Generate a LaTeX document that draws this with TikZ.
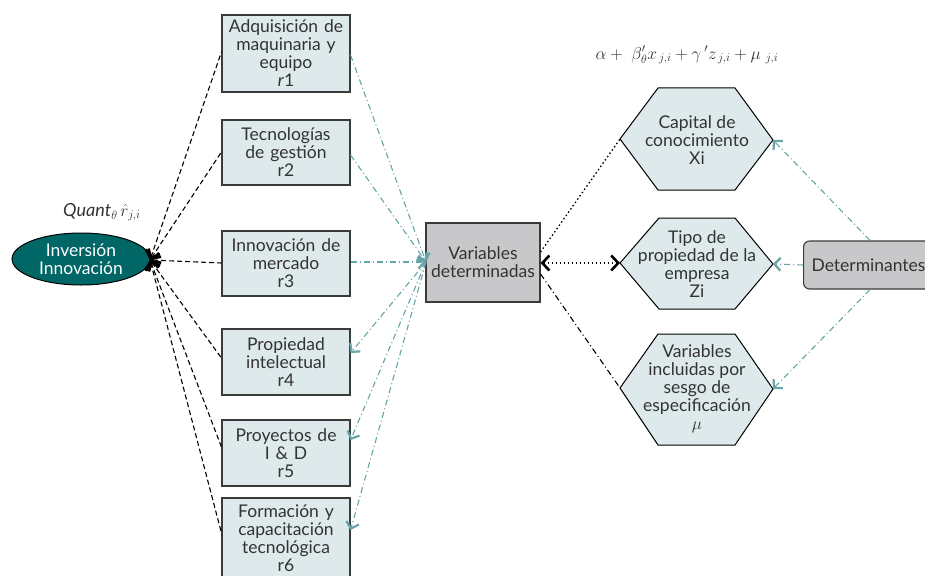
\documentclass[tikz,border=0pt]{standalone}
\usepackage{fontspec}
\setmainfont{Lato}
\usetikzlibrary{arrows.meta,shapes.geometric}
\definecolor{boxfill}{HTML}{DDE9EB}
\definecolor{greyfill}{HTML}{C8C8CA}
\definecolor{teal2}{HTML}{006666}
\definecolor{tealline}{HTML}{66A4A8}
\definecolor{txt}{HTML}{333333}
\definecolor{edge}{HTML}{3A3A3A}
\tikzset{
  fnt/.style={font=\fontsize{17.5}{18}\selectfont},
  rbox/.style={draw=edge, fill=boxfill, line width=1.1pt, minimum width=128pt, text width=127pt, align=center, inner sep=0pt, text=txt, fnt},
  gbox/.style={draw=edge, fill=greyfill, line width=1.1pt, text=txt, align=center, inner sep=0pt, fnt},
  hexa/.style={draw=black, fill=boxfill, line width=1pt},
  hextext/.style={text=txt, align=center, fnt},
  dashk/.style={draw=black, line width=1.1pt, dash pattern=on 5pt off 3pt},
  dashdott/.style={draw=tealline, line width=1.1pt, dash pattern=on 6pt off 3pt on 1pt off 3pt},
  dashdotk/.style={draw=black, line width=1.1pt, dash pattern=on 6pt off 3pt on 1pt off 3pt},
  dotk/.style={draw=black, line width=1.3pt, dash pattern=on 1.5pt off 2.5pt},
  ktip/.tip={Straight Barb[length=7pt,width=15pt,line width=2.6pt]},
  ttip/.tip={Straight Barb[length=6pt,width=13pt,line width=2.2pt]},
}
\begin{document}
\begin{tikzpicture}[x=1pt,y=-1pt]
\useasboundingbox (0,0) rectangle (925,575);
% ellipse
\node[ellipse, fill=teal2, draw=black, line width=1pt, minimum width=138pt, minimum height=52pt, inner sep=0pt, text=white, align=center, fnt] (inv) at (81,259) {Inversión\\Innovación};
\node[text=txt] (quant) at (102,212) {\fontsize{18}{20}\selectfont$\mathit{Quant}_{\theta}\,\hat{r}_{j,i}$};
% boxes
\node[rbox, minimum height=77pt] (r1) at (286,53.5) {Adquisición de\\maquinaria y\\equipo\\\textit{r}1};
\node[rbox, minimum height=65pt] (r2) at (286,152.5) {Tecnologías\\de gestión\\r2};
\node[rbox, minimum height=65pt] (r3) at (286,263.5) {Innovación de\\mercado\\r3};
\node[rbox, minimum height=66pt] (r4) at (286,362) {Propiedad\\intelectual\\r4};
\node[rbox, minimum height=66pt] (r5) at (286,453) {Proyectos de\\I \& D\\r5};
\node[rbox, minimum height=80pt] (r6) at (286,538) {Formación y\\capacitación\\tecnológica\\r6};
% central
\node[gbox, minimum width=114pt, minimum height=79pt] (vd) at (483,262.5) {Variables\\determinadas};
% formula
\node[text=txt] (form) at (687,55) {\fontsize{18.5}{20}\selectfont$\alpha+\ \beta'_{\theta}x_{\,j,i}+\gamma\,'z_{\,j,i}+\mu_{\ j,i}$};
% hexagons
\coordinate (h1L) at (620,139); \coordinate (h1R) at (773,140);
\draw[hexa] (h1L) -- (658,88) -- (735,88) -- (h1R) -- (735,190) -- (658,190) -- cycle;
\node[hextext] (h1) at (697,140) {Capital de\\conocimiento\\Xi};
\coordinate (h2L) at (620,263); \coordinate (h2R) at (773,264);
\draw[hexa] (h2L) -- (659,218) -- (735,218) -- (h2R) -- (735,309) -- (659,309) -- cycle;
\node[hextext] (h2) at (697,264) {Tipo de\\propiedad de la\\empresa\\Zi};
\coordinate (h3L) at (620,388); \coordinate (h3R) at (773,389);
\draw[hexa] (h3L) -- (658,334) -- (735,334) -- (h3R) -- (735,445) -- (658,445) -- cycle;
\node[hextext] (h3) at (697,389) {Variables\\incluidas por\\sesgo de\\especificación\\$\mu$};
% determinantes
\node[gbox, rounded corners=6pt, minimum width=140pt, minimum height=48pt, anchor=west, text width=138pt, align=left] (det) at (803,265) {\hspace{7pt}Determinantes};
% ellipse connectors
\coordinate (ie) at (150,260);
\draw[dashk, {ktip}-] (ie) -- (r1.west |- 0,52);
\draw[dashk, {ktip}-] (ie) -- (r2.west |- 0,152);
\draw[dashk, {ktip}-] (ie) -- (r3.west |- 0,263);
\draw[dashk, {ktip}-] (ie) -- (r4.west |- 0,358);
\draw[dashk, {ktip}-] (ie) -- (r5.west |- 0,447);
\draw[dashk, {ktip}-] (ie) -- (r6.west |- 0,533);
% teal connectors to central
\coordinate (vw) at (426,262);
\draw[dashdott, -{ttip}] (r1.east |- 0,55) -- (vw);
\draw[dashdott, -{ttip}] (r2.east |- 0,155) -- (vw);
\draw[dashdott, -{ttip}] (r3.east |- 0,262) -- (vw);
\draw[dashdott, -{ttip}] (vw) -- (r4.east |- 0,353);
\draw[dashdott, -{ttip}] (vw) -- (r5.east |- 0,440);
\draw[dashdott, -{ttip}] (vw) -- (r6.east |- 0,530);
% central to hexagons
\draw[dotk] (vd.east |- 0,252) -- (h1L);
\draw[dotk, {ktip}-{ktip}] (vd.east |- 0,263) -- (h2L);
\draw[dashdotk] (vd.east |- 0,274) -- (h3L);
% determinantes to hexagons
\draw[dashdott, -{ttip}] (det.north west) ++(67,0) coordinate (dtop) (dtop) -- (h1R);
\draw[dashdott, -{ttip}] (det.west) -- (h2R);
\draw[dashdott, -{ttip}] (det.south west) ++(67,0) coordinate (dbot) (dbot) -- (h3R);
\end{tikzpicture}
\end{document}
